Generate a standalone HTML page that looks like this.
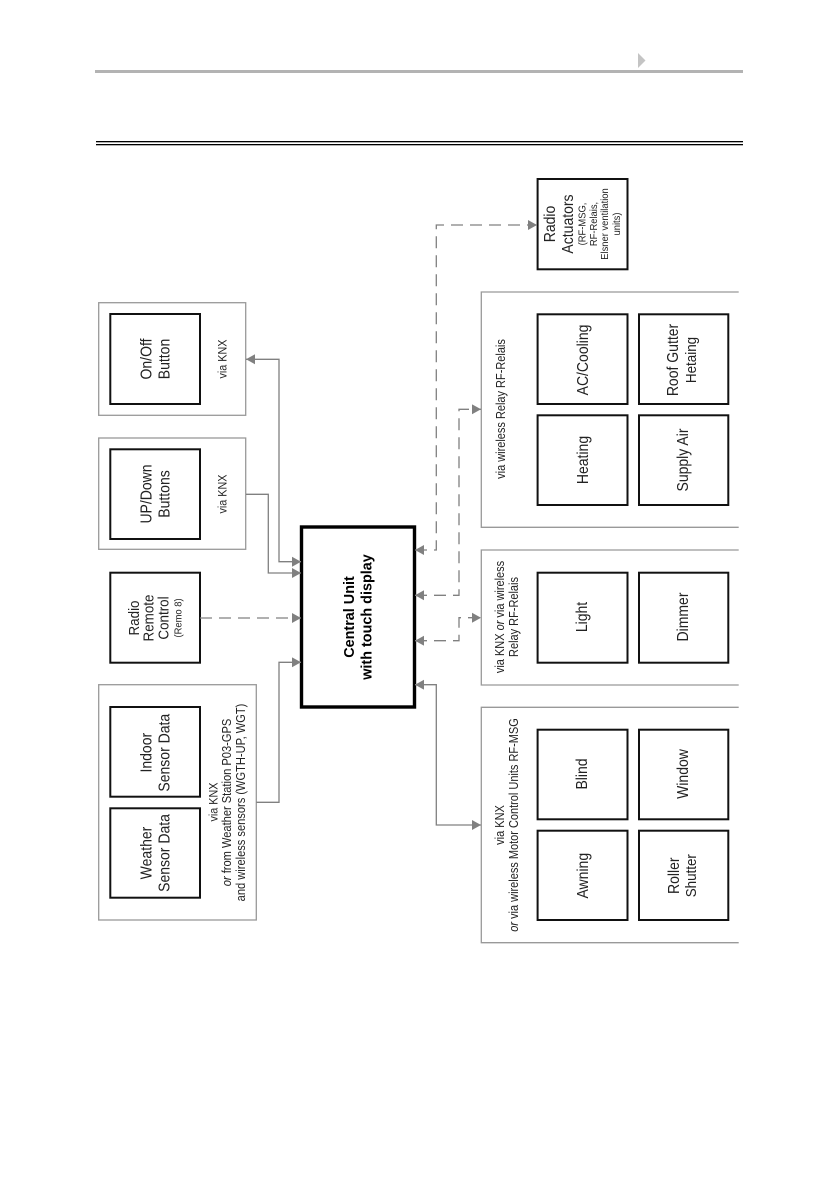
<!DOCTYPE html>
<html><head><meta charset="utf-8"><style>
html,body{margin:0;padding:0;background:#fff;width:839px;height:1190px;overflow:hidden}
svg{display:block;filter:blur(0.3px)}
text{font-family:"Liberation Sans",sans-serif;fill:#222;text-anchor:middle}
.o{fill:none;stroke:#999;stroke-width:1.3}
.i{fill:none;stroke:#111;stroke-width:2}
.c{fill:none;stroke:#808080;stroke-width:1.3}
.d{fill:none;stroke:#808080;stroke-width:1.3;stroke-dasharray:12 7}
</style></head><body>
<svg width="839" height="1190" viewBox="0 0 839 1190" xmlns="http://www.w3.org/2000/svg">
<defs>
<marker id="a" markerUnits="userSpaceOnUse" markerWidth="10" markerHeight="12" refX="9" refY="5" orient="auto-start-reverse"><path d="M0 0L9 5L0 10z" fill="#808080"/></marker>
</defs>
<!-- header -->
<rect x="95" y="70" width="648" height="3" fill="#b3b3b3"/>
<path d="M638 53L645.5 60.5L638 68z" fill="#c4c4c4"/>
<rect x="96" y="141" width="647" height="1.3" fill="#000"/>
<rect x="96" y="144" width="647" height="1.3" fill="#000"/>

<!-- outer groups -->
<rect class="o" x="98.7" y="302.7" width="147" height="112.6"/>
<rect class="o" x="98.7" y="438" width="147" height="111.3"/>
<rect class="o" x="98.7" y="684.7" width="157.6" height="235.3"/>
<path class="o" d="M738.7 292H481.3V527.3H738.7"/>
<path class="o" d="M738.7 550H481.3V685H738.7"/>
<path class="o" d="M738.7 707.3H481.3V942.7H738.7"/>

<!-- inner boxes -->
<rect class="i" x="110.3" y="314" width="89.7" height="90"/>
<rect class="i" x="110.3" y="449.3" width="89.7" height="89.7"/>
<rect class="i" x="110.3" y="572.7" width="89.7" height="90"/>
<rect class="i" x="110.3" y="707" width="89.7" height="89.7"/>
<rect class="i" x="110.3" y="808.3" width="89.7" height="89.4"/>
<rect class="i" x="537.6" y="179" width="89.9" height="90.3"/>
<rect class="i" x="537.6" y="314.3" width="89.9" height="89.7"/>
<rect class="i" x="639" y="314.3" width="89.3" height="89.7"/>
<rect class="i" x="537.6" y="415.3" width="89.9" height="89.7"/>
<rect class="i" x="639" y="415.3" width="89.3" height="89.7"/>
<rect class="i" x="537.6" y="572.7" width="89.9" height="90"/>
<rect class="i" x="639" y="572.7" width="89.3" height="90"/>
<rect class="i" x="537.6" y="729.7" width="89.9" height="89.6"/>
<rect class="i" x="639" y="729.7" width="89.3" height="89.6"/>
<rect class="i" x="537.6" y="830.7" width="89.9" height="89.3"/>
<rect class="i" x="639" y="830.7" width="89.3" height="89.3"/>

<!-- central -->
<rect x="301.5" y="527" width="113" height="180" fill="#fff" stroke="#000" stroke-width="3.4"/>

<!-- connectors -->
<path class="c" d="M246 359.3H279V561.7H301" marker-start="url(#a)" marker-end="url(#a)"/>
<path class="c" d="M246 494.3H268.3V573H301" marker-end="url(#a)"/>
<path class="d" d="M200 618H301" marker-end="url(#a)"/>
<path class="c" d="M256.3 802.3H279V662.3H301" marker-end="url(#a)"/>
<path class="d" d="M415 550H436.3V225H537" marker-start="url(#a)" marker-end="url(#a)"/>
<path class="d" d="M415 595.3H459V409.3H481" marker-start="url(#a)" marker-end="url(#a)"/>
<path class="d" d="M415 640.7H459V617.7H481" marker-start="url(#a)" marker-end="url(#a)"/>
<path class="c" d="M415 684.7H436.3V825H481" marker-start="url(#a)" marker-end="url(#a)"/>

<!-- labels -->
<g font-size="14">
<text transform="translate(151.7 359) rotate(-90) scale(1 1.12)">On/Off</text>
<text transform="translate(169.3 359) rotate(-90) scale(1 1.12)">Button</text>
<text transform="translate(151.7 494) rotate(-90) scale(1 1.12)">UP/Down</text>
<text transform="translate(169.3 494) rotate(-90) scale(1 1.12)">Buttons</text>
<text transform="translate(151.7 752.7) rotate(-90) scale(1 1.12)">Indoor</text>
<text transform="translate(169.3 752.7) rotate(-90) scale(1 1.12)">Sensor Data</text>
<text transform="translate(151.7 853) rotate(-90) scale(1 1.12)">Weather</text>
<text transform="translate(169.3 853) rotate(-90) scale(1 1.12)">Sensor Data</text>
<text transform="translate(555 224) rotate(-90) scale(1 1.12)">Radio</text>
<text transform="translate(573 224) rotate(-90) scale(1 1.12)">Actuators</text>
<text transform="translate(588 360) rotate(-90) scale(1 1.12)">AC/Cooling</text>
<text transform="translate(678 360) rotate(-90) scale(1 1.12)">Roof Gutter</text>
<text transform="translate(588 460) rotate(-90) scale(1 1.12)">Heating</text>
<text transform="translate(688 460) rotate(-90) scale(1 1.12)">Supply Air</text>
<text transform="translate(587 617) rotate(-90) scale(1 1.12)">Light</text>
<text transform="translate(688 617) rotate(-90) scale(1 1.12)">Dimmer</text>
<text transform="translate(587 774) rotate(-90) scale(1 1.12)">Blind</text>
<text transform="translate(688 774) rotate(-90) scale(1 1.12)">Window</text>
<text transform="translate(588 875.7) rotate(-90) scale(1 1.12)">Awning</text>
<text transform="translate(679 875.7) rotate(-90) scale(1 1.12)">Roller</text>
</g>
<g font-size="13.4">
<text transform="translate(139 618) rotate(-90) scale(1 1.12)">Radio</text>
<text transform="translate(153.3 618) rotate(-90) scale(1 1.12)">Remote</text>
<text transform="translate(168.3 618) rotate(-90) scale(1 1.12)">Control</text>
<text transform="translate(696 360) rotate(-90) scale(1 1.12)">Hetaing</text>
<text transform="translate(696 875.7) rotate(-90) scale(1 1.12)">Shutter</text>
</g>
<g font-size="9.4">
<text transform="translate(181.7 618) rotate(-90) scale(1 1.12)">(Remo 8)</text>
<text transform="translate(585.7 224) rotate(-90) scale(1 1.12)">(RF-MSG,</text>
<text transform="translate(597 224) rotate(-90) scale(1 1.12)">RF-Relais,</text>
<text transform="translate(608 224) rotate(-90) scale(1 1.12)">Elsner ventilation</text>
<text transform="translate(620 224) rotate(-90) scale(1 1.12)">units)</text>
</g>
<g font-size="10.8">
<text transform="translate(226.7 359) rotate(-90) scale(1 1.12)">via KNX</text>
<text transform="translate(226.7 494) rotate(-90) scale(1 1.12)">via KNX</text>
<text transform="translate(217.7 802) rotate(-90) scale(1 1.15)">via KNX</text>
</g>
<g font-size="11.1">
<text transform="translate(231 802.5) rotate(-90) scale(1 1.15)"><tspan font-style="italic">or</tspan> from Weather Station P03-GPS</text>
<text transform="translate(245 802.5) rotate(-90) scale(1 1.15)">and wireless sensors (WGTH-UP, WGT)</text>
</g>
<g font-size="11">
<text transform="translate(505 409) rotate(-90) scale(1 1.2)">via wireless Relay RF-Relais</text>
<text transform="translate(504 617) rotate(-90) scale(1 1.2)">via KNX <tspan font-style="italic">or</tspan> via wireless</text>
<text transform="translate(518 617) rotate(-90) scale(1 1.2)">Relay RF-Relais</text>
<text transform="translate(504 825) rotate(-90) scale(1 1.2)">via KNX</text>
<text transform="translate(518 825) rotate(-90) scale(1 1.2)"><tspan font-style="italic">or</tspan> via wireless Motor Control Units RF-MSG</text>
</g>
<g font-size="14.4" font-weight="bold">
<text transform="translate(354 617) rotate(-90)" style="fill:#000">Central Unit</text>
<text transform="translate(371.7 617) rotate(-90)" style="fill:#000">with touch display</text>
</g>
</svg>
</body></html>
